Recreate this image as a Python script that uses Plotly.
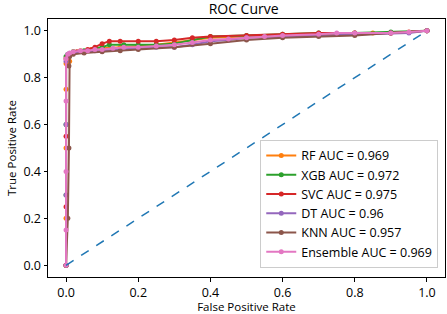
import plotly.graph_objects as go

series_names = ["RF AUC = 0.969", "XGB AUC = 0.972", "SVC AUC = 0.975",
                "DT AUC = 0.96", "KNN AUC = 0.957", "Ensemble AUC = 0.969"]
colors = ["#ff7f0e", "#2ca02c", "#d62728", "#9467bd", "#8c564b", "#e377c2"]

rf_fpr = [0, 0, 0, 0, 0, 0.005, 0.01, 0.01, 0.02, 0.04, 0.07, 0.1, 0.15, 0.2, 0.25, 0.3, 0.35, 0.4, 0.5, 0.6, 0.7, 0.8, 0.85, 0.9, 0.95, 1.0]
rf_tpr = [0, 0.2, 0.5, 0.75, 0.86, 0.86, 0.87, 0.9, 0.91, 0.915, 0.92, 0.925, 0.93, 0.935, 0.94, 0.95, 0.96, 0.97, 0.975, 0.98, 0.985, 0.99, 0.99, 0.99, 0.995, 1.0]
xgb_fpr = [0, 0, 0, 0, 0.005, 0.01, 0.02, 0.05, 0.08, 0.1, 0.12, 0.16, 0.2, 0.25, 0.3, 0.35, 0.4, 0.5, 0.6, 0.7, 0.8, 0.9, 1.0]
xgb_tpr = [0, 0.3, 0.6, 0.89, 0.9, 0.9, 0.91, 0.915, 0.925, 0.93, 0.94, 0.94, 0.94, 0.94, 0.945, 0.96, 0.975, 0.98, 0.985, 0.99, 0.99, 0.995, 1.0]
svc_fpr = [0, 0, 0, 0, 0.005, 0.01, 0.03, 0.06, 0.08, 0.1, 0.12, 0.15, 0.2, 0.25, 0.3, 0.35, 0.4, 0.5, 0.6, 0.7, 0.8, 0.9, 1.0]
svc_tpr = [0, 0.25, 0.55, 0.88, 0.89, 0.9, 0.91, 0.92, 0.93, 0.945, 0.955, 0.955, 0.955, 0.955, 0.96, 0.97, 0.975, 0.98, 0.985, 0.99, 0.99, 0.99, 1.0]
dt_fpr = [0, 0, 0, 0, 0.005, 0.02, 0.05, 0.08, 0.1, 0.15, 0.2, 0.25, 0.3, 0.35, 0.4, 0.45, 0.5, 0.6, 0.7, 0.8, 0.9, 0.95, 1.0]
dt_tpr = [0, 0.3, 0.6, 0.87, 0.9, 0.905, 0.91, 0.915, 0.915, 0.92, 0.925, 0.93, 0.93, 0.94, 0.955, 0.96, 0.97, 0.975, 0.98, 0.985, 0.99, 0.99, 1.0]
knn_fpr = [0, 0.005, 0.008, 0.008, 0.01, 0.02, 0.05, 0.1, 0.15, 0.2, 0.3, 0.4, 0.5, 0.6, 0.7, 0.8, 0.9, 1.0]
knn_tpr = [0, 0.2, 0.5, 0.85, 0.89, 0.9, 0.905, 0.91, 0.915, 0.92, 0.93, 0.945, 0.96, 0.97, 0.975, 0.98, 0.99, 1.0]
ens_fpr = [0, 0, 0, 0, 0, 0.005, 0.01, 0.02, 0.04, 0.06, 0.08, 0.1, 0.13, 0.16, 0.2, 0.25, 0.3, 0.35, 0.4, 0.45, 0.5, 0.55, 0.6, 0.7, 0.75, 0.8, 0.9, 0.95, 1.0]
ens_tpr = [0, 0.15, 0.4, 0.7, 0.88, 0.9, 0.905, 0.91, 0.915, 0.915, 0.92, 0.92, 0.925, 0.93, 0.93, 0.935, 0.94, 0.95, 0.96, 0.965, 0.97, 0.975, 0.98, 0.985, 0.99, 0.99, 0.99, 0.995, 1.0]

diag_x = [0, 1]
diag_y = [0, 1]

x_ticks = [0.0, 0.2, 0.4, 0.6, 0.8, 1.0]
y_ticks = [0.0, 0.2, 0.4, 0.6, 0.8, 1.0]

all_fpr = [rf_fpr, xgb_fpr, svc_fpr, dt_fpr, knn_fpr, ens_fpr]
all_tpr = [rf_tpr, xgb_tpr, svc_tpr, dt_tpr, knn_tpr, ens_tpr]

fig = go.Figure()
for name, c, xs, ys in zip(series_names, colors, all_fpr, all_tpr):
    fig.add_trace(go.Scatter(x=xs, y=ys, mode="lines+markers", name=name,
                             line=dict(color=c, width=2),
                             marker=dict(color=c, size=5)))
fig.add_trace(go.Scatter(x=diag_x, y=diag_y, mode="lines", showlegend=False,
                         line=dict(color="#1f77b4", width=1.5, dash="dash")))

font = "Open Sans"
axis_common = dict(showline=True, linecolor="black", linewidth=1, mirror=True,
                   ticks="outside", ticklen=3.5, tickcolor="black",
                   showgrid=False, zeroline=False,
                   tickfont=dict(family=font, size=12.5, color="black"))
fig.update_layout(
    width=447, height=314,
    margin=dict(l=48, r=2, t=19, b=37),
    plot_bgcolor="white", paper_bgcolor="white",
    title=dict(text="ROC Curve", x=0.545, xanchor="center", yref="container",
               y=0.972, yanchor="middle",
               font=dict(family=font, size=14, color="black")),
    xaxis=dict(range=[-0.05, 1.05], tickvals=x_ticks, ticktext=[f"{v:.1f}" for v in x_ticks],
               title=dict(text="False Positive Rate", font=dict(family=font, size=11.5, color="black"), standoff=2),
               **axis_common),
    yaxis=dict(range=[-0.05, 1.05], tickvals=y_ticks, ticktext=[f"{v:.1f}" for v in y_ticks],
               title=dict(text="True Positive Rate", font=dict(family=font, size=11.5, color="black"), standoff=4),
               **axis_common),
    legend=dict(x=0.983, xanchor="right", y=0.035, yanchor="bottom",
                bgcolor="rgba(255,255,255,0.8)", bordercolor="#cccccc", borderwidth=1,
                font=dict(family=font, size=12.5, color="black"),
                tracegroupgap=0, itemwidth=30),
    showlegend=True,
)
fig.write_html("out.html", config={"displayModeBar": False},
               post_script="document.body.style.margin='0';document.body.style.overflow='hidden';")
